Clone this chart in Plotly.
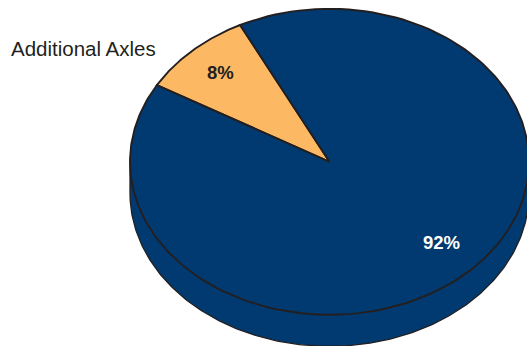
import numpy as np
import plotly.graph_objects as go

# Share of each category, in percent
categories = ["Additional Axles", "Other"]
values = [8, 92]
slice_colors = ["#FDB863", "#003A70"]
label_colors = ["#231F20", "#FFFFFF"]

# Pie geometry in canvas units
WIDTH, HEIGHT = 527, 346
CX, CY = 329.5, 161.8
RX, RY = 199.5, 153.0
DEPTH = 31.5
FIRST_SLICE_DEG = 315.0
FORESHORTEN = 2.25  # perspective compression of angles along the view axis
EDGE = "#231F20"

# Anchor of each percentage label and of the caption
label_positions = [(220, 72.5), (441, 242.5)]
caption_position = (10, 48.5)


def rim_point(deg):
    """Project a pie angle (clockwise from 12 o'clock) onto the tilted rim."""
    t = np.radians(deg)
    dx, dy = np.sin(t), np.cos(t) / FORESHORTEN
    s = 1.0 / np.sqrt((dx / RX) ** 2 + (dy / RY) ** 2)
    return CX + s * dx, CY - s * dy


def rim_arc(start, end, n=240):
    pts = [rim_point(a) for a in np.linspace(start, end, n)]
    return [p[0] for p in pts], [p[1] for p in pts]


fig = go.Figure()

# Side wall: the visible lower half of the extruded disc
phi = np.linspace(0, np.pi, 240)
wall_x = list(CX + RX * np.cos(phi))
wall_y = list(CY + DEPTH + RY * np.sin(phi))
wall_x = [CX + RX] + wall_x + [CX - RX]
wall_y = [CY] + wall_y + [CY]
fig.add_trace(go.Scatter(
    x=wall_x, y=wall_y, mode="lines", fill="toself",
    fillcolor=slice_colors[1], line=dict(color=EDGE, width=1.3),
    hoverinfo="skip", showlegend=False,
))

# Top face: one wedge per category, swept from the first-slice angle
angle = FIRST_SLICE_DEG
for value, color in zip(values, slice_colors):
    sweep = value / sum(values) * 360.0
    ax, ay = rim_arc(angle, angle + sweep)
    fig.add_trace(go.Scatter(
        x=[CX] + ax + [CX], y=[CY] + ay + [CY], mode="lines", fill="toself",
        fillcolor=color, line=dict(color=EDGE, width=1.9),
        hoverinfo="skip", showlegend=False,
    ))
    angle += sweep

# Percentage labels inside the slices and the category caption
for value, (lx, ly), color in zip(values, label_positions, label_colors):
    fig.add_annotation(
        x=lx, y=ly, text=f"<b>{value}%</b>", showarrow=False,
        font=dict(family="Liberation Sans", size=18.5, color=color),
    )

fig.add_annotation(
    x=caption_position[0], y=caption_position[1], text=categories[0],
    showarrow=False, xanchor="left", xshift=-1,
    font=dict(family="Liberation Sans", size=20.5, color=EDGE),
)

fig.update_xaxes(range=[0, WIDTH], visible=False, fixedrange=True)
fig.update_yaxes(range=[HEIGHT, 0], visible=False, fixedrange=True)
fig.update_layout(
    width=WIDTH, height=HEIGHT, margin=dict(l=0, r=0, t=0, b=0),
    paper_bgcolor="white", plot_bgcolor="white", showlegend=False,
)
fig.write_html("out.html", config=dict(displayModeBar=False))
